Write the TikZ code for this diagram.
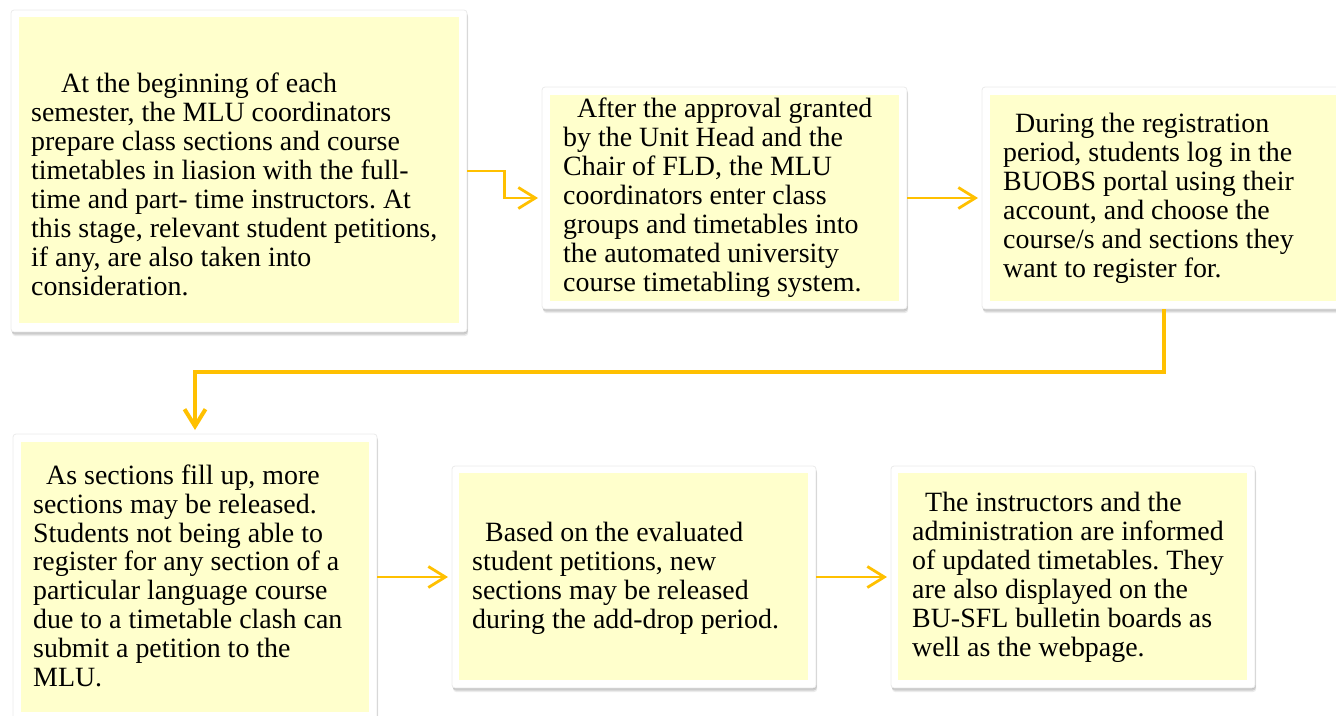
\documentclass[tikz,border=0pt]{standalone}
\usepackage{fontspec}
\setmainfont{Liberation Serif}[Ligatures=CommonOff]
\usetikzlibrary{arrows.meta,calc,shadows}
\definecolor{notefill}{HTML}{FFFFCC}
\definecolor{flowgold}{HTML}{FFC000}
\frenchspacing

\begin{document}
\begin{tikzpicture}[x=1pt,y=-1pt,
  frame/.style={fill=white, draw=black!8, line width=0.8pt, rounded corners=3pt,
    inner sep=0pt, outer sep=0pt,
    general shadow={fill=black, opacity=0.10, shadow xshift=0.3pt, shadow yshift=-1pt},
    general shadow={fill=black, opacity=0.12, shadow xshift=0.8pt, shadow yshift=-2.5pt},
    general shadow={fill=black, opacity=0.08, shadow xshift=1.2pt, shadow yshift=-4pt}},
  note/.style={fill=notefill, draw=none, inner sep=0pt, outer sep=0pt},
  words/.style={anchor=north west, align=left, inner sep=0pt,
    font=\fontsize{27.9}{28.9}\selectfont},
  flow/.style={draw=flowgold, line width=2.8pt, line join=miter,
    -{Straight Barb[length=17pt,width=21pt]}, shorten >=4pt},
]
\useasboundingbox (0,0) rectangle (1336,715);

% white cards with a soft shadow
\node[frame, minimum width=456pt, minimum height=322pt] (f1) at (239,171) {};
\node[frame, minimum width=365pt, minimum height=222pt] (f2) at (724.5,198) {};
\node[frame, minimum width=364pt, minimum height=222pt] (f3) at (1164,198) {};
\node[frame, minimum width=364pt, minimum height=286pt] (f4) at (195,577) {};
\node[frame, minimum width=364pt, minimum height=222pt] (f5) at (634,577) {};
\node[frame, minimum width=364pt, minimum height=222pt] (f6) at (1073,577) {};

% pale yellow panels
\node[note, minimum width=440pt, minimum height=306pt] (y1) at (239,170) {};
\node[note, minimum width=349pt, minimum height=206pt] (y2) at (724.5,198) {};
\node[note, minimum width=348pt, minimum height=206pt] (y3) at (1164,198) {};
\node[note, minimum width=348pt, minimum height=270pt] (y4) at (195,577) {};
\node[note, minimum width=349pt, minimum height=207pt] (y5) at (633.5,576.5) {};
\node[note, minimum width=349pt, minimum height=207pt] (y6) at (1072.5,576.5) {};

% step texts
\node[words] (t1) at (31,72.5) {\strut\hspace*{30pt}At the beginning of each\\semester, the MLU coordinators\\prepare class sections and course\\timetables in liasion with the full-\\time and part- time instructors. At\\this stage, relevant student petitions,\\if any, are also taken into\\consideration.};
\node[words] (t2) at (563,97.5) {\strut\hspace*{14pt}After the approval granted\\by the Unit Head and the\\Chair of FLD, the MLU\\coordinators enter class\\groups and timetables into\\the automated university\\course timetabling system.};
\node[words] (t3) at (1003,112.5) {\strut\hspace*{12pt}During the registration\\period, students log in the\\BUOBS portal using their\\account, and choose the\\course/s and sections they\\want to register for.};
\node[words] (t4) at (33,463.8) {\strut\hspace*{13pt}As sections fill up, more\\sections may be released.\\Students not being able to\\register for any section of a\\particular language course\\due to a timetable clash can\\submit a petition to the\\MLU.};
\node[words] (t5) at (472,521.5) {\strut\hspace*{13pt}Based on the evaluated\\student petitions, new\\sections may be released\\during the add-drop period.};
\node[words] (t6) at (912,491.5) {\strut\hspace*{13pt}The instructors and the\\administration are informed\\of updated timetables. They\\are also displayed on the\\BU-SFL bulletin boards as\\well as the webpage.};

% connectors
\draw[flow] (f1.east) -| ($(f1.east)!.5!(f2.west)$) |- (f2.west);
\draw[flow] (f2.east) -- (f3.west);
\draw[flow, line width=4pt] (f3.south) |- ($(f3.south)!.5!(f4.north)$) -| (f4.north);
\draw[flow] (f4.east |- f5.west) -- (f5.west);
\draw[flow] (f5.east) -- (f6.west);
\end{tikzpicture}
\end{document}
